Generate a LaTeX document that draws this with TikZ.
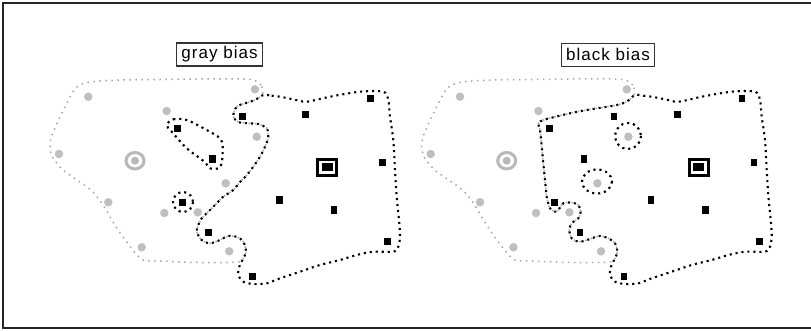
\documentclass[tikz,border=0pt]{standalone}
\usepackage{fontspec}
\newfontfamily\labelfont[LetterSpace=6]{Liberation Sans}
\usetikzlibrary{shapes.geometric}

\begin{document}
\begin{tikzpicture}[x=1pt,y=-1pt]

\tikzset{graysite/.style={circle,fill=black!25,inner sep=0pt,minimum size=8.5pt},
blacksite/.style={rectangle,fill=black,inner sep=0pt,minimum width=6.5pt,minimum height=7.5pt},
biaslabel/.style={draw=black!80,line width=1.1pt,inner xsep=5pt,minimum height=23pt,font=\labelfont\fontsize{17}{19}\selectfont},
grayedge/.style={draw=black!35,line width=1.5pt,dash pattern=on 1.5pt off 4.5pt},
blackedge/.style={draw=black,line width=2.1pt,dash pattern=on 2.1pt off 3.9pt}}

\useasboundingbox (0,0) rectangle (811,330);
\draw[line width=1.2pt,black!85] (811,3) -- (3,3) -- (3,328) -- (811,328); % frame

% Labels
\node[biaslabel] (grayLabel) at (219.5,54.5) {gray bias};
\node[biaslabel] (blackLabel) at (608,54.7) {black bias};

% Left panel boundaries (gray bias)
\draw[grayedge] plot[smooth cycle] coordinates {(263,92) (261,85) (254,80) (240,79) (200,79) (160,79.5) (120,80) (90,82) (77,87) (70,97) (60,117) (52,135) (50,147) (53,158) (63,170) (77,180) (92,191) (103,205) (113,222) (123,237) (133,250) (143,260) (160,261) (200,262.5) (238,262) (243.3,258.3) (246,251.7) (243.3,241.7) (237,237) (228,236) (220,240) (210,243.3) (201.7,240) (196.7,231.7) (198.3,225) (201.7,218.3) (208.3,211.7) (215,205) (223.3,196.7) (233.3,190) (240,182) (246,176) (253,167) (260,156.7) (265,146.7) (268.3,136.7) (266.7,128.3) (258.3,124) (248.3,123.3) (238.3,122) (233.3,116) (236.7,106.7) (245,103.3) (255,100) (261.7,96)};
\draw[blackedge] plot[smooth cycle] coordinates {(263.3,95) (271.6,95.7) (280,96.7) (293.3,99.3) (306.7,101.7) (330,96.7) (360,91.7) (383.3,91.7) (388.3,100) (390,116.7) (393.3,140) (395,170) (396.7,196.7) (399.3,223.3) (400,236.7) (398.3,246.7) (393.3,251.7) (373.3,251.7) (356.7,255) (340,260) (320,265) (300,271.7) (280,278.3) (266.7,283.3) (253.3,284) (243.3,281.7) (238.3,275) (239.3,266.7) (243.3,258.3) (246,251.7) (243.3,241.7) (237,237) (228,236) (220,240) (210,243.3) (201.7,240) (196.7,231.7) (198.3,225) (201.7,218.3) (208.3,211.7) (215,205) (223.3,196.7) (233.3,190) (240,182) (246,176) (253,167) (260,156.7) (265,146.7) (268.3,136.7) (266.7,128.3) (258.3,124) (248.3,123.3) (238.3,122) (233.3,116) (236.7,106.7) (245,103.3) (255,100)};
\foreach \s in {grayedge,blackedge}{
  \draw[\s] plot[smooth cycle] coordinates {(166.7,125) (173.3,119.3) (186.7,120) (206.7,130) (220,138.3) (222.7,146.7) (221.7,163.3) (218.3,168.3) (210,168.3) (206,163.3) (200,158.3) (186.7,148.3) (171.7,131.7)};
  \draw[\s] (183,202) circle[radius=10];
}

% Right panel boundaries (black bias)
\draw[grayedge] plot[smooth cycle] coordinates {(634.7,92) (632.7,85) (625.7,80) (611.7,79) (571.7,79) (531.7,79.5) (491.7,80) (461.7,82) (448.7,87) (441.7,97) (431.7,117) (423.7,135) (421.7,147) (424.7,158) (434.7,170) (448.7,180) (463.7,191) (474.7,205) (484.7,222) (494.7,237) (504.7,250) (514.7,260) (531.7,261) (571.7,262.5) (609.7,262) (615,258.3) (617.3,251.7) (615,243.3) (608.3,238.3) (600,236) (591.7,238.3) (585,240.7) (578.3,241.7) (571.7,238.3) (569.3,230) (571.7,223.3) (578.3,218.3) (580.7,211.7) (578.3,205) (571.7,202.7) (563.3,203.3) (556.7,211.7) (550,208.3) (548.3,203.3) (546.7,196.7) (545,180) (543.3,163.3) (541.7,146.7) (540,130) (538.3,123.3) (543.3,120) (553.3,117.3) (570,113.3) (586.7,110) (603.3,107.3) (616.7,105) (626.7,101.7) (633,96)};
\draw[blackedge] plot[smooth cycle] coordinates {(635,95) (643.3,95.7) (651.7,96.7) (665,99.3) (678.4,101.7) (701.7,96.7) (731.7,91.7) (755,91.7) (760,100) (761.7,116.7) (765,140) (766.7,170) (768.4,196.7) (771,223.3) (771.7,236.7) (770,246.7) (765,251.7) (745,251.7) (728.4,255) (711.7,260) (691.7,265) (671.7,271.7) (651.7,278.3) (638.4,283.3) (625,284) (615,281.7) (610,275) (611,266.7) (615,258.3) (617.3,251.7) (615,243.3) (608.3,238.3) (600,236) (591.7,238.3) (585,240.7) (578.3,241.7) (571.7,238.3) (569.3,230) (571.7,223.3) (578.3,218.3) (580.7,211.7) (578.3,205) (571.7,202.7) (563.3,203.3) (556.7,211.7) (550,208.3) (548.3,203.3) (546.7,196.7) (545,180) (543.3,163.3) (541.7,146.7) (540,130) (538.3,123.3) (543.3,120) (553.3,117.3) (570,113.3) (586.7,110) (603.3,107.3) (616.7,105) (626.7,101.7)};
\foreach \s in {grayedge,blackedge}{
  \draw[\s] (628,136) circle[radius=13];
  \draw[\s] (597,181.5) ellipse[x radius=15,y radius=12];
}

% Sites, same in both panels
\foreach \p/\dx in {L/0,R/371.7}{
  \begin{scope}[xshift=\dx]
  \foreach \x/\y [count=\i] in {88.3/96.7, 255/89.3, 166.7/111, 256.7/136.7, 59/154, 225.7/183.3, 108.3/202.3, 164.3/213, 197.7/212.3, 141.7/247.3, 229.3/251.3}
    \node[graysite] (\p-g\i) at (\x,\y) {};
  \foreach \x/\y [count=\i] in {242.3/116.7, 305.7/114.7, 370.3/98.3, 177.7/128.7, 212.3/159, 382.3/162.7, 182.7/202.3, 279.3/200, 334/210, 208.3/232.7, 387.7/241.7, 252.3/276.7}
    \node[blacksite] (\p-b\i) at (\x,\y) {};
  % gray and black centres
  \node[ellipse,draw=black!28,line width=3pt,minimum width=18pt,minimum height=16.5pt,inner sep=0pt] (\p-hub) at (135,160.7) {};
  \node[circle,fill=black!28,minimum size=8pt,inner sep=0pt] (\p-hubdot) at (\p-hub) {};
  \node[draw=black,line width=3pt,fill=white,minimum width=19pt,minimum height=16pt,inner sep=0pt] (\p-home) at (327,167.2) {};
  \node[fill=black,minimum width=11pt,minimum height=8pt,inner sep=0pt] (\p-homedot) at (\p-home) {};
  \end{scope}
}

\end{tikzpicture}
\end{document}
